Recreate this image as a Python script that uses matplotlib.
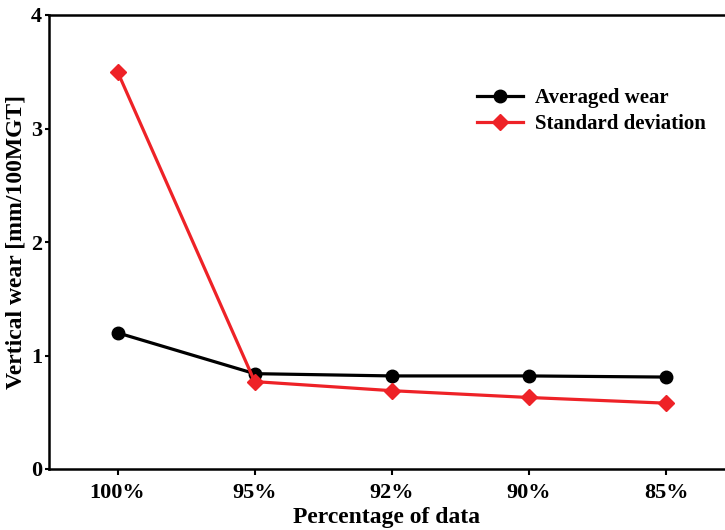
import numpy as np
import matplotlib
matplotlib.use("Agg")
import matplotlib.pyplot as plt

plt.rcParams['font.family'] = ['Liberation Serif', 'DejaVu Serif']
plt.rcParams['font.weight'] = 'bold'

categories = ["100%", "95%", "92%", "90%", "85%"]
averaged_wear = [1.20, 0.84, 0.82, 0.82, 0.81]
standard_dev = [3.50, 0.77, 0.69, 0.63, 0.58]

fig = plt.figure(figsize=(7.25, 5.3), dpi=100)
ax = fig.add_axes([49 / 725, 1 - 469 / 530, 1 - 49 / 725, (469 - 15) / 530])

x = np.arange(len(categories))
ax.plot(x, averaged_wear, color="black", lw=2.3, marker="o", ms=9, label="Averaged wear")
ax.plot(x, standard_dev, color="#ee2227", lw=2.3, marker="D", ms=8, label="Standard deviation")

ax.set_xlim(-0.5, 4.43)
ax.set_ylim(0, 4)
ax.set_xticks(x)
ax.set_xticklabels(categories)
ax.set_yticks([0, 1, 2, 3, 4])
ax.spines["right"].set_visible(False)
for s in ["left", "bottom", "top"]:
    ax.spines[s].set_linewidth(1.8)
ax.tick_params(axis="both", direction="out", width=1.5, length=4, labelsize=16)
ax.tick_params(axis="x", pad=6)
ax.tick_params(axis="y", length=3, pad=2)
for lab in ax.get_xticklabels() + ax.get_yticklabels():
    lab.set_fontweight("bold")

ax.set_xlabel("Percentage of data", fontsize=17, fontweight="bold", labelpad=3)
ax.set_ylabel("Vertical wear [mm/100MGT]", fontsize=17, fontweight="bold", labelpad=3)

ax.legend(loc="upper right", bbox_to_anchor=(1.0, 0.88), frameon=False,
          prop={"size": 15, "weight": "bold"}, handlelength=2.2, handletextpad=0.6,
          labelspacing=0.3)

fig.savefig("out.png", dpi=100)
